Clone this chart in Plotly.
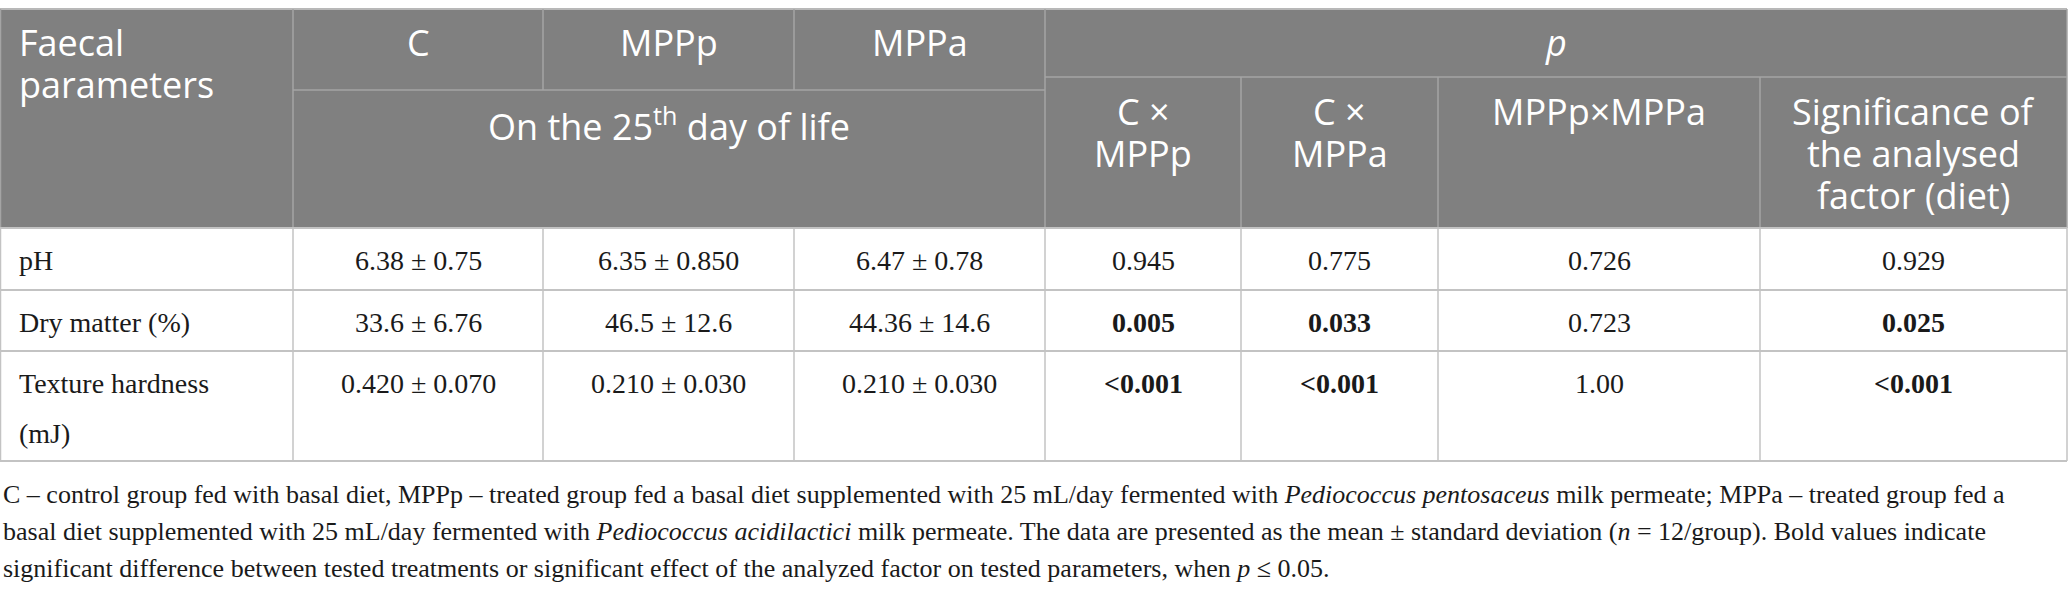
import plotly.graph_objects as go

# ---------------- data ----------------
row_label_lines = [["pH"], ["Dry matter (%)"], ["Texture hardness", "(mJ)"]]
C_vals = ["6.38 ± 0.75", "33.6 ± 6.76", "0.420 ± 0.070"]
MPPp_vals = ["6.35 ± 0.850", "46.5 ± 12.6", "0.210 ± 0.030"]
MPPa_vals = ["6.47 ± 0.78", "44.36 ± 14.6", "0.210 ± 0.030"]
p_C_MPPp = ["0.945", "0.005", "<0.001"]
p_C_MPPa = ["0.775", "0.033", "<0.001"]
p_MPPp_MPPa = ["0.726", "0.723", "1.00"]
p_diet = ["0.929", "0.025", "<0.001"]

group_headers = ["C", "MPPp", "MPPa"]
span_header = "On the 25<sup>th</sup> day of life"
p_header = "<i>p</i>"
p_sub_headers = [["C ×", "MPPp"], ["C ×", "MPPa"], ["MPPp×MPPa"],
                 ["Significance of", "the analysed", "factor (diet)"]]
corner_header = ["Faecal", "parameters"]

footnote_lines = [
    "C – control group fed with basal diet, MPPp – treated group fed a basal diet supplemented with 25 mL/day fermented with <i>Pediococcus pentosaceus</i> milk permeate; MPPa – treated group fed a",
    "basal diet supplemented with 25 mL/day fermented with <i>Pediococcus acidilactici</i> milk permeate. The data are presented as the mean ± standard deviation (<i>n</i> = 12/group). Bold values indicate",
    "significant difference between tested treatments or significant effect of the analyzed factor on tested parameters, when <i>p</i> ≤ 0.05.",
]

# ---------------- layout constants ----------------
W, H = 2068, 594
cols = [0.5, 293, 543, 794, 1045, 1241, 1438, 1760, 2067]
y_top = 9
y_grp = 90      # bottom of C / MPPp / MPPa cells
y_p = 77        # bottom of p cell
y_head = 228
row_edges = [228, 290, 351, 461]

HEAD_BG = "#808080"
HEAD_LINE = "#a4a4a4"
BODY_LINE = "#c3c3c3"
HFONT = "Open Sans"
BFONT = "Liberation Serif"
HSIZE = 36
BSIZE = 28
FSIZE = 26
HLS = 42   # header line spacing
BLS = 50   # body line spacing
FLS = 37   # footnote line spacing

fig = go.Figure()
shapes = []
ann = []

# header background
shapes.append(dict(type="rect", x0=0, x1=cols[-1], y0=y_top, y1=y_head,
                   fillcolor=HEAD_BG, line=dict(width=0), layer="below"))

def hline(x0, x1, y, color, w=1.5):
    shapes.append(dict(type="line", x0=x0, x1=x1, y0=y, y1=y,
                       line=dict(color=color, width=w)))

def vline(x, y0, y1, color, w=1.5):
    shapes.append(dict(type="line", x0=x, x1=x, y0=y0, y1=y1,
                       line=dict(color=color, width=w)))

# header lines
hline(0, cols[-1], y_top, "#b8b8b8", 2)
hline(cols[1], cols[4], y_grp, HEAD_LINE)
hline(cols[4], cols[-1], y_p, HEAD_LINE)
vline(cols[1], y_top, y_head, HEAD_LINE)
vline(cols[2], y_top, y_grp, HEAD_LINE)
vline(cols[3], y_top, y_grp, HEAD_LINE)
vline(cols[4], y_top, y_head, HEAD_LINE)
for c in cols[5:8]:
    vline(c, y_p, y_head, HEAD_LINE)
vline(cols[0], y_top, y_head, HEAD_LINE)
vline(cols[-1], y_top, y_head, HEAD_LINE)

# body lines
for y in row_edges:
    hline(0, cols[-1], y, BODY_LINE, 2)
for c in cols:
    vline(c, row_edges[0], row_edges[-1], BODY_LINE)

def text(x, y, s, font, size, color, xanchor="center"):
    ann.append(dict(x=x, y=y, text=s, showarrow=False, xanchor=xanchor,
                    yanchor="middle", xref="x", yref="y",
                    font=dict(family=font, size=size, color=color)))

def hcenter(baseline):
    return baseline - 0.388 * HSIZE

def bcenter(baseline, size=BSIZE):
    return baseline - 0.3375 * size

# header texts
base1 = 56
for i, line in enumerate(corner_header):
    text(17, hcenter(base1 + i * HLS), line, HFONT, HSIZE, "white", "left")
for i, g in enumerate(group_headers):
    text((cols[i + 1] + cols[i + 2]) / 2, hcenter(base1), g, HFONT, HSIZE, "white")
text((cols[1] + cols[4]) / 2, hcenter(138), span_header, HFONT, HSIZE, "white")
text((cols[4] + cols[-1]) / 2, hcenter(base1), p_header, HFONT, HSIZE, "white")
base2 = 125
for j, lines in enumerate(p_sub_headers):
    cx = (cols[4 + j] + cols[5 + j]) / 2
    for i, line in enumerate(lines):
        text(cx, hcenter(base2 + i * HLS), line, HFONT, HSIZE, "white")

# body texts
def is_sig(v):
    v = v.replace("<", "")
    return float(v) <= 0.05

value_cols = [C_vals, MPPp_vals, MPPa_vals, p_C_MPPp, p_C_MPPa, p_MPPp_MPPa, p_diet]
for r in range(len(row_label_lines)):
    base = row_edges[r] + 42
    for i, line in enumerate(row_label_lines[r]):
        text(17, bcenter(base + i * BLS), line, BFONT, BSIZE, "#1a1a1a", "left")
    for k, vals in enumerate(value_cols):
        v = vals[r]
        if k >= 3 and is_sig(v):
            s = "<b>" + v.replace("<", "&lt;") + "</b>"
        else:
            s = v.replace("<", "&lt;")
        text((cols[k + 1] + cols[k + 2]) / 2, bcenter(base), s, BFONT, BSIZE, "#1a1a1a")

# footnote
for i, line in enumerate(footnote_lines):
    text(1, bcenter(503 + i * FLS, FSIZE), line, BFONT, FSIZE, "#1a1a1a", "left")

fig.update_layout(
    width=W, height=H, margin=dict(l=0, r=0, t=0, b=0),
    paper_bgcolor="white", plot_bgcolor="white",
    xaxis=dict(range=[0, W], visible=False, fixedrange=True),
    yaxis=dict(range=[H, 0], visible=False, fixedrange=True),
    shapes=shapes, annotations=ann, showlegend=False,
)

fig.write_html("out.html", config={"displayModeBar": False},
               post_script="document.body.style.margin='0';document.body.style.overflow='hidden';")
